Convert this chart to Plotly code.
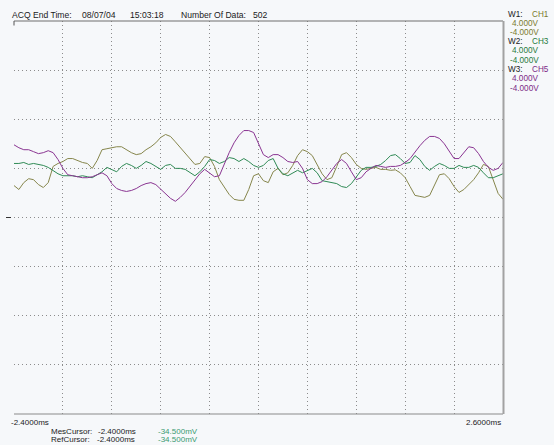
import plotly.graph_objects as go

# time axis (ms), sampled every 0.05 ms
time_ms = [-2.40, -2.35, -2.30, -2.25, -2.20, -2.15, -2.10, -2.05, -2.00, -1.95,
           -1.90, -1.85, -1.80, -1.75, -1.70, -1.65, -1.60, -1.55, -1.50, -1.45,
           -1.40, -1.35, -1.30, -1.25, -1.20, -1.15, -1.10, -1.05, -1.00, -0.95,
           -0.90, -0.85, -0.80, -0.75, -0.70, -0.65, -0.60, -0.55, -0.50, -0.45,
           -0.40, -0.35, -0.30, -0.25, -0.20, -0.15, -0.10, -0.05, 0.00, 0.05,
           0.10, 0.15, 0.20, 0.25, 0.30, 0.35, 0.40, 0.45, 0.50, 0.55,
           0.60, 0.65, 0.70, 0.75, 0.80, 0.85, 0.90, 0.95, 1.00, 1.05,
           1.10, 1.15, 1.20, 1.25, 1.30, 1.35, 1.40, 1.45, 1.50, 1.55,
           1.60, 1.65, 1.70, 1.75, 1.80, 1.85, 1.90, 1.95, 2.00, 2.05,
           2.10, 2.15, 2.20, 2.25, 2.30, 2.35, 2.40, 2.45, 2.50, 2.55, 2.60]

ch1_volts = [0.65, 0.57, 0.71, 0.79, 0.77, 0.67, 0.61, 0.71, 1.04, 1.10,
             1.14, 1.20, 1.20, 1.16, 1.12, 1.10, 1.00, 1.16, 1.38, 1.40,
             1.42, 1.44, 1.44, 1.38, 1.32, 1.28, 1.30, 1.38, 1.44, 1.52,
             1.63, 1.69, 1.65, 1.54, 1.42, 1.30, 1.20, 1.08, 1.10, 1.24,
             1.22, 1.04, 0.77, 0.61, 0.47, 0.37, 0.35, 0.35, 0.57, 0.85,
             0.89, 0.75, 0.71, 0.93, 1.00, 0.87, 0.91, 1.06, 1.26, 1.38,
             1.34, 1.26, 1.06, 0.89, 0.77, 0.81, 1.04, 1.28, 1.32, 1.22,
             1.08, 1.00, 0.98, 1.00, 1.02, 0.98, 0.98, 0.96, 0.97, 0.91,
             0.81, 0.63, 0.45, 0.43, 0.41, 0.45, 0.67, 0.87, 0.89, 0.79,
             0.63, 0.51, 0.57, 0.67, 0.77, 0.91, 1.08, 1.04, 0.75, 0.49, 0.37]

ch3_volts = [1.10, 1.10, 1.12, 1.08, 1.10, 1.08, 1.06, 1.02, 0.96, 0.89,
             0.85, 0.85, 0.85, 0.83, 0.85, 0.83, 0.81, 0.87, 0.93, 1.02,
             0.98, 0.93, 1.04, 1.10, 1.06, 1.00, 1.06, 1.14, 1.10, 1.04,
             0.98, 1.06, 1.08, 1.00, 1.00, 0.98, 0.91, 0.85, 0.93, 1.04,
             1.18, 1.16, 1.10, 1.14, 1.22, 1.20, 1.14, 1.20, 1.14, 1.06,
             1.02, 1.06, 1.16, 1.20, 1.00, 0.89, 0.85, 0.91, 0.96, 0.91,
             0.96, 1.00, 0.91, 0.75, 0.73, 0.71, 0.69, 0.63, 0.61, 0.69,
             0.83, 0.96, 1.02, 1.02, 1.04, 1.08, 1.16, 1.26, 1.28, 1.20,
             1.10, 1.12, 1.26, 1.18, 1.04, 0.96, 1.04, 1.10, 1.06, 1.00,
             1.00, 1.06, 1.02, 1.02, 1.06, 1.02, 0.91, 0.81, 0.81, 0.85, 0.89]

ch5_volts = [1.48, 1.42, 1.38, 1.38, 1.34, 1.30, 1.32, 1.36, 1.32, 1.18,
             1.00, 0.87, 0.85, 0.83, 0.81, 0.81, 0.83, 0.87, 0.91, 0.85,
             0.69, 0.59, 0.55, 0.53, 0.55, 0.59, 0.65, 0.69, 0.71, 0.67,
             0.57, 0.47, 0.39, 0.33, 0.41, 0.51, 0.63, 0.77, 0.89, 0.98,
             0.91, 0.83, 0.85, 1.10, 1.32, 1.52, 1.67, 1.77, 1.77, 1.73,
             1.52, 1.28, 1.22, 1.28, 1.28, 1.22, 1.14, 1.12, 1.14, 1.00,
             0.77, 0.69, 0.69, 0.73, 0.83, 0.96, 1.10, 1.18, 1.10, 0.93,
             0.77, 0.81, 0.93, 1.00, 1.06, 1.04, 1.02, 1.04, 1.04, 1.06,
             1.12, 1.20, 1.34, 1.46, 1.57, 1.65, 1.65, 1.61, 1.50, 1.34,
             1.20, 1.20, 1.32, 1.44, 1.42, 1.30, 1.14, 1.02, 0.96, 1.00, 1.12]

channels = ["CH1", "CH3", "CH5"]
line_colors = ["#86864c", "#2f8a55", "#8a3592"]
text_colors = ["#7a7a2e", "#1f7a3c", "#7d2a86"]
ranges = ["4.000V", "-4.000V"]

W, H = 554, 445
L, R, T, B = 14, 503, 20.5, 414.5


def px(x):
    return (x - L) / (R - L)


def py(y):
    return (B - y) / (B - T)


FONT = "Arial, Liberation Sans, sans-serif"
FS = 8.6

fig = go.Figure()
for vals, name, col in zip([ch1_volts, ch3_volts, ch5_volts], channels, line_colors):
    fig.add_trace(go.Scatter(x=time_ms, y=vals, mode="lines", name=name,
                             line=dict(color=col, width=1), showlegend=False,
                             hoverinfo="skip"))

ann = []


def txt(s, x, y, color="#1a1a1a", anchor="left", size=FS):
    ann.append(dict(text=s, x=px(x), y=py(y), xref="paper", yref="paper",
                    xanchor=anchor, yanchor="middle", showarrow=False,
                    font=dict(family=FONT, size=size, color=color)))


txt("ACQ End Time:", 10, 14)
txt("08/07/04", 80, 14)
txt("15:03:18", 128, 14)
txt("Number Of Data:", 179, 14)
txt("502", 251, 14)

legend_y = [14, 41.3, 69.3]
for i, (ch, tc) in enumerate(zip(channels, text_colors)):
    y0 = legend_y[i]
    txt("W%d:" % (i + 1), 506, y0, size=8.2)
    txt(ch, 530, y0, tc, size=8.2)
    txt(ranges[0], 510, y0 + 9.1, tc, size=8.2)
    txt(ranges[1], 508, y0 + 18.4, tc, size=8.2)

SM = 8.0
txt("-2.4000ms", 9, 423, size=SM)
txt("2.6000ms", 503, 423, anchor="right", size=SM)
txt("MesCursor:", 49, 432, size=SM)
txt("-2.4000ms", 96, 432, size=SM)
txt("-34.500mV", 156, 432, "#3a9a72", size=SM)
txt("RefCursor:", 49, 440.5, size=SM)
txt("-2.4000ms", 95, 440.5, size=SM)
txt("-34.500mV", 156, 440.5, "#3a9a72", size=SM)

shapes = [
    dict(type="line", xref="paper", yref="paper", x0=0, x1=1, y0=1, y1=1,
         line=dict(color="#6e6e6e", width=1)),
    dict(type="line", xref="paper", yref="paper", x0=0, x1=1, y0=0, y1=0,
         line=dict(color="#8a8a8a", width=1)),
    dict(type="line", xref="paper", yref="paper", x0=1.001, x1=1.001, y0=0, y1=1,
         line=dict(color="#a2a2a2", width=2)),
    dict(type="line", xref="paper", yref="paper", x0=0, x1=0, y0=1, y1=py(25),
         line=dict(color="#555555", width=1)),
    dict(type="line", xref="paper", yref="paper", x0=px(6), x1=px(11),
         y0=py(217.5), y1=py(217.5), line=dict(color="#333333", width=1)),
]

fig.update_layout(
    width=W, height=H,
    margin=dict(l=L, r=W - R, t=T, b=H - B, pad=0),
    paper_bgcolor="#f6f8fa", plot_bgcolor="#f6f8fa",
    annotations=ann, shapes=shapes,
    xaxis=dict(range=[-2.4, 2.6], tick0=-2.4, dtick=0.5, showticklabels=False,
               ticks="", showgrid=True, gridcolor="#8c8c8c", griddash="1px,3px",
               gridwidth=1, zeroline=False, showline=False, fixedrange=True),
    yaxis=dict(range=[-4, 4], tick0=-4, dtick=1, showticklabels=False,
               ticks="", showgrid=True, gridcolor="#8c8c8c", griddash="1px,3px",
               gridwidth=1, zeroline=False, showline=False, fixedrange=True),
)

fig.write_html("out.html", config={"displayModeBar": False})
